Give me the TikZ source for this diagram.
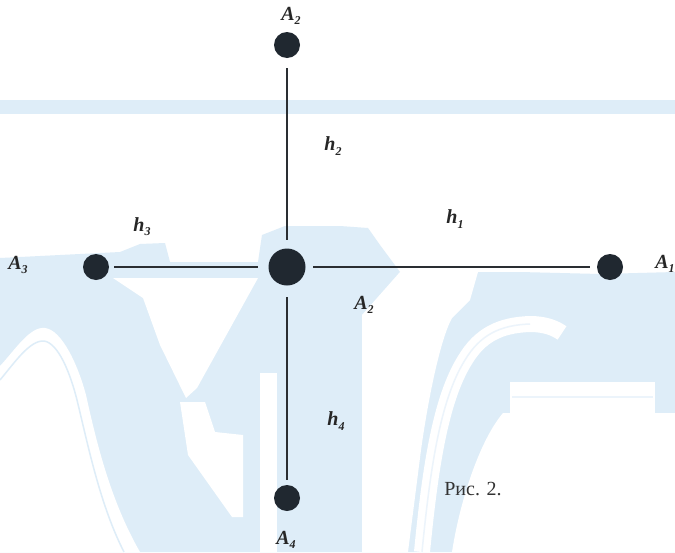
\documentclass[tikz,border=0pt]{standalone}
\usepackage{fontspec}
\setmainfont{Liberation Serif}
\definecolor{wmblue}{RGB}{222,237,248}
\definecolor{wmline}{RGB}{236,244,251}
\definecolor{nodedark}{RGB}{32,40,48}
\definecolor{linedark}{RGB}{42,46,50}
\newcommand{\lowsub}[1]{\raisebox{-0.45ex}{\fontsize{12}{12}\selectfont #1}}
\begin{document}
\begin{tikzpicture}[x=1pt,y=-1pt,
  wm/.style={fill=wmblue,draw=none},
  wh/.style={fill=white,draw=none},
  pt/.style={circle,fill=nodedark,draw=none,minimum size=26pt,inner sep=0pt},
  bigpt/.style={circle,fill=nodedark,draw=none,minimum size=37pt,inner sep=0pt},
  lbl/.style={font=\fontsize{20}{20}\selectfont\bfseries\itshape,inner sep=0pt,text=black!85},
  figcaption/.style={font=\fontsize{20}{20}\selectfont,inner sep=0pt,text=black!80},
  conn/.style={draw=linedark,line width=2.4pt}]
% canvas
\fill[white] (0,0) rectangle (675,552);
\path[use as bounding box] (0,0) rectangle (675,552);
% watermark
\fill[wm] (0,100) rectangle (675,114);
\fill[wm] (0,258) -- (120,252) -- (140,244) -- (165,243) -- (170,262) -- (258,262)
  -- (262,235) -- (285,226) -- (340,226) -- (368,228) -- (380,245) -- (400,272)
  -- (520,272) -- (600,274) -- (675,272) -- (675,552) -- (0,552) -- cycle;
% left arch
\fill[wh] (0,366) .. controls (15,350) and (30,326) .. (45,328)
  .. controls (62,330) and (78,365) .. (86,395)
  .. controls (96,440) and (110,500) .. (140,552) -- (0,552) -- cycle;
\draw[wmblue,line width=1.5pt] (0,380) .. controls (15,362) and (30,340) .. (44,341)
  .. controls (58,343) and (70,372) .. (77,400)
  .. controls (88,445) and (100,505) .. (124,552);
% wedge
\fill[wh] (113,278) -- (258,278) -- (197,388) -- (186,398) -- (160,345) -- (143,298) -- cycle;
\fill[wh] (180,402) -- (205,402) -- (215,432) -- (243,435) -- (243,517) -- (232,517) -- (188,455) -- cycle;
\fill[wh] (260,373) rectangle (277,552);
% right white region
\fill[wh] (362,315) -- (400,272) -- (478,272) -- (470,300) -- (452,318)
  .. controls (440,340) and (428,400) .. (421,450) -- (408,552) -- (362,552) -- cycle;
% F curve
\draw[white,line width=16pt] (422,552) .. controls (430,470) and (440,400) .. (465,360)
  .. controls (480,335) and (500,325) .. (530,324) .. controls (545,324) and (555,328) .. (562,333);
\draw[wmline,line width=1.5pt] (422,552) .. controls (430,470) and (440,400) .. (465,360)
  .. controls (480,335) and (500,325) .. (530,324);
\fill[wh] (510,382) rectangle (655,413);
\fill[wh] (503,413) -- (675,413) -- (675,552) -- (452,552) .. controls (460,500) and (480,440) .. (503,413) -- cycle;
\draw[wmline,line width=1.5pt] (512,397) -- (653,397);
% diagram
\node[pt] (nA2) at (287,45) {};
\node[bigpt] (nC) at (287,267) {};
\node[pt] (nA3) at (96,267) {};
\node[pt] (nA1) at (610,267) {};
\node[pt] (nA4) at (287,498) {};
\draw[conn, shorten <=10pt, shorten >=8.5pt] (nA2) -- (nC);
\draw[conn, shorten <=5pt, shorten >=10.5pt] (nA3) -- (nC);
\draw[conn, shorten <=7.5pt, shorten >=7pt] (nC) -- (nA1);
\draw[conn, shorten <=11.5pt, shorten >=5pt] (nC) -- (nA4);
% labels
\node[lbl] (lA2t) at (291,16) {A\lowsub{2}};
\node[lbl] (lh2) at (333,146) {h\lowsub{2}};
\node[lbl] (lh3) at (142,227) {h\lowsub{3}};
\node[lbl] (lh1) at (455,219) {h\lowsub{1}};
\node[lbl] (lA3) at (18,265) {A\lowsub{3}};
\node[lbl] (lA1) at (665,264) {A\lowsub{1}};
\node[lbl] (lA2b) at (364,305) {A\lowsub{2}};
\node[lbl] (lh4) at (336,421) {h\lowsub{4}};
\node[lbl] (lA4) at (286,540) {A\lowsub{4}};
\node[figcaption] (fig) at (473,489) {Рис. 2.};
\end{tikzpicture}
\end{document}
